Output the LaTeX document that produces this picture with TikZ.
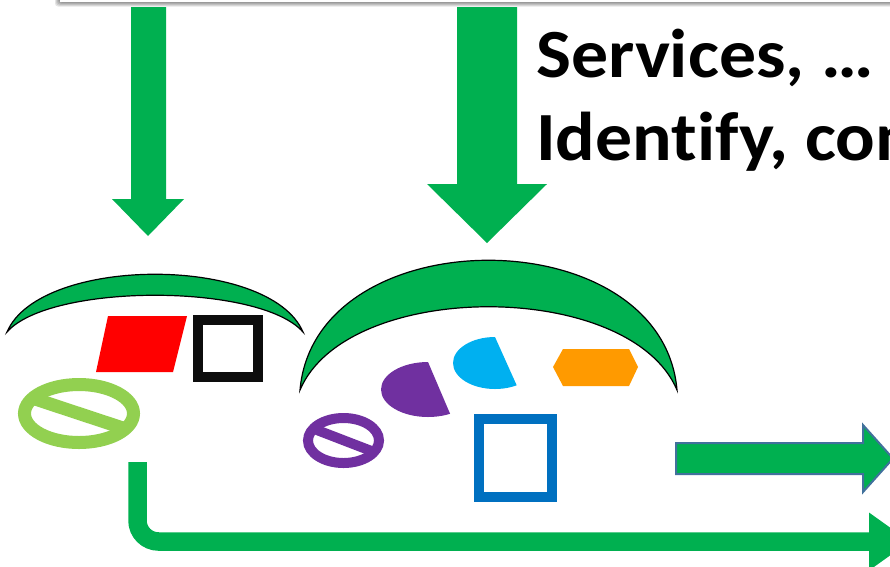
\documentclass[tikz,border=0pt]{standalone}
\usepackage{fontspec}
\setmainfont{Carlito}
\newfontfamily\headfont[FakeStretch=1.07, Ligatures=NoCommon]{Carlito}
\usepackage{tikz}
\usetikzlibrary{arrows.meta}
\definecolor{ppGreen}{HTML}{00B050}
\definecolor{ppLime}{HTML}{92D050}
\definecolor{ppPurple}{HTML}{7030A0}
\definecolor{ppCyan}{HTML}{00B0F0}
\definecolor{ppOrange}{HTML}{FF9A00}
\definecolor{ppBlue}{HTML}{0070C0}
\definecolor{ppRed}{HTML}{FF0000}
\definecolor{ppSteel}{HTML}{41719C}
\definecolor{ppBlack}{HTML}{0D0D0D}
\tikzset{
    blockarrow/.style={fill=ppGreen, draw=none},
    moon/.style={fill=ppGreen, draw=black, line width=1.2pt},
    frame/.style={line width=10pt, fill=none},
    headline/.style={font=\headfont\fontsize{69}{83}\selectfont\bfseries, inner sep=0pt, anchor=base west}
}

\begin{document}
\begin{tikzpicture}[
        x=1pt, y=-1pt,
        % Styles
        ring/.style ={line width=13pt},
        thinring/.style={line width=10pt},
        flow/.style ={ppGreen, line width=18.5pt, rounded corners=21pt, -{Triangle[length=41pt, width=55pt]}}
    ]
    \useasboundingbox (0,0) rectangle (890,566);
    \clip (0,0) rectangle (890,566);

    % Top box with its shadow
    \foreach \s in {1,...,5}
        \fill[black, opacity=0.1, rounded corners=3pt] (60-\s,-30) rectangle (895,1.5+\s);
    \fill[white] (60,-30) rectangle (895,2);

    % Down arrows
    \fill[blockarrow] (131,7) -- (166,7) -- (166,199) -- (184,199) -- (148,236) -- (112,199) -- (131,199) -- cycle;
    \fill[blockarrow] (457,7) -- (517,7) -- (517,184) -- (547,184) -- (487,243) -- (427,184) -- (457,184) -- cycle;

    % Heading
    \node[headline] (services) at (536,77) {Services, …};
    \node[headline] (identify) at (536,160) {Identify, con};

    % Left group
    \filldraw[moon] (7,332) .. controls (40,255) and (270,255) .. (303,332)
        .. controls (260,283) and (50,283) .. (7,332) -- cycle;
    \fill[ppRed] (108,316) -- (187,316) -- (173,372) -- (96,372) -- cycle;
    \draw[frame, draw=ppBlack] (198,320) rectangle (258,377);
    \draw[ring, draw=ppLime] (79,413.5) ellipse [x radius=54.5pt, y radius=29pt];
    \begin{scope}
        \clip (79,413.5) ellipse [x radius=49pt, y radius=23pt];
        \draw[ring, draw=ppLime] (20,394) -- (138,433);
    \end{scope}

    % Middle group
    \filldraw[moon] (300,390) .. controls (315,217) and (662,217) .. (677,390)
        .. controls (630,279) and (347,279) .. (300,390) -- cycle;
    \draw[thinring, draw=ppPurple] (343.5,440.5) ellipse [x radius=35.5pt, y radius=22.5pt];
    \begin{scope}
        \clip (343.5,440.5) ellipse [x radius=31pt, y radius=18pt];
        \draw[thinring, draw=ppPurple] (300,423.5) -- (387,457);
    \end{scope}
    \begin{scope}
        \clip (422.9,350) -- (457,430) -- (370,430) -- (370,350) -- cycle;
        \fill[ppPurple] (428,389.5) ellipse [x radius=47pt, y radius=27.5pt];
    \end{scope}
    \begin{scope}
        \clip (489.6,325) -- (523.3,400) -- (440,400) -- (440,325) -- cycle;
        \fill[ppCyan] (495,363) ellipse [x radius=42pt, y radius=26pt];
    \end{scope}
    \fill[ppOrange] (553,367) -- (563,349) -- (629,349) -- (638,367) -- (629,386) -- (563,386) -- cycle;
    \draw[frame, draw=ppBlue] (479,419) rectangle (552,497);

    % Right block arrow
    \filldraw[blockarrow, draw=ppSteel, line width=2pt] (676,443) -- (863,443) -- (863,425)
        -- (893,458.5) -- (863,492) -- (863,474) -- (676,474) -- cycle;

    % Bottom flow
    \coordinate (flowstart) at (137.5,462);
    \coordinate (flowend) at (910,541.5);
    \draw[flow] (flowstart) |- (flowend);

\end{tikzpicture}
\end{document}
